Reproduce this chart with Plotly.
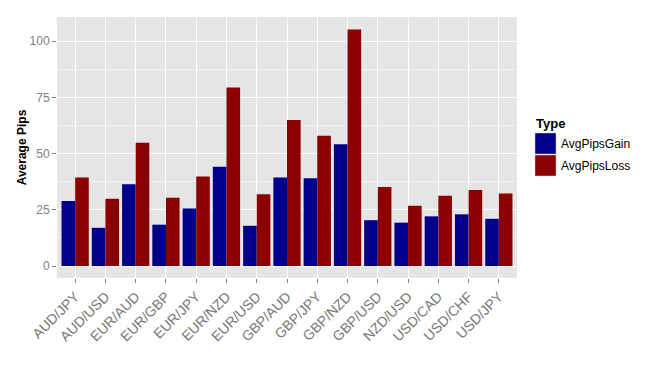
import plotly.graph_objects as go

pairs = ["AUD/JPY", "AUD/USD", "EUR/AUD", "EUR/GBP", "EUR/JPY", "EUR/NZD", "EUR/USD",
         "GBP/AUD", "GBP/JPY", "GBP/NZD", "GBP/USD", "NZD/USD", "USD/CAD", "USD/CHF", "USD/JPY"]
avg_pips_gain = [28.9, 17.0, 36.4, 18.4, 25.6, 44.1, 17.9, 39.4, 39.0, 54.1, 20.4, 19.3, 22.1, 23.0, 21.0]
avg_pips_loss = [39.4, 29.9, 54.8, 30.4, 39.8, 79.4, 31.9, 64.9, 57.9, 105.2, 35.1, 26.8, 31.3, 33.8, 32.3]
y_ticks = [0, 25, 50, 75, 100]
series_names = ["AvgPipsGain", "AvgPipsLoss"]
colors = ["#00008B", "#8B0000"]

FONT = "Liberation Sans, Arial, sans-serif"

fig = go.Figure()
for name, vals, col in zip(series_names, [avg_pips_gain, avg_pips_loss], colors):
    fig.add_trace(go.Bar(x=pairs, y=vals, name=name, marker_color=col,
                         marker_line_width=0, showlegend=False))

# page body has an 8px default margin, so margins are compensated
fig.update_layout(
    width=660, height=370,
    margin=dict(l=49, r=151, t=9, b=100, autoexpand=False),
    paper_bgcolor="white", plot_bgcolor="#E5E5E5",
    barmode="group", bargap=0.1, bargroupgap=0,
    font=dict(family=FONT, color="#7F7F7F", size=12),
)
fig.update_xaxes(range=[-0.6, 14.6], tickangle=-45, ticks="outside", ticklen=4,
                 tickcolor="#7F7F7F", showgrid=True, gridcolor="white", gridwidth=1.2,
                 tickfont=dict(size=14, color="#777777"), zeroline=False, showline=False,
                 automargin=False)
fig.update_yaxes(range=[-5.3, 110.7], tickvals=y_ticks, ticks="outside", ticklen=4,
                 tickcolor="#7F7F7F", showgrid=True, gridcolor="white", gridwidth=1.2,
                 minor=dict(dtick=12.5, showgrid=True, gridcolor="#F2F2F2", gridwidth=0.6),
                 tickfont=dict(size=12, color="#7F7F7F"), zeroline=False, showline=False,
                 automargin=False,
                 title=dict(text="<b>Average Pips</b>", font=dict(size=12, color="black"), standoff=0))

# legend drawn manually (paper coords relative to plot area 460x261)
fig.add_annotation(xref="paper", yref="paper", x=1.038, y=(278 - 123) / 261, xanchor="left",
                   yanchor="middle", text="<b>Type</b>", showarrow=False,
                   font=dict(size=13, color="black", family=FONT))
pw = 460
for i, (name, col) in enumerate(zip(series_names, colors)):
    top = 133 + i * 22
    bot = top + 21
    y0 = (278 - bot) / 261
    y1 = (278 - top) / 261
    x0 = (535 - 57) / pw
    x1 = (556 - 57) / pw
    fig.add_shape(type="rect", xref="paper", yref="paper", x0=x0, x1=x1, y0=y0, y1=y1,
                  fillcolor=col, line=dict(color="#CCCCCC", width=0.5))
    fig.add_annotation(xref="paper", yref="paper", x=(559 - 57) / pw, y=(y0 + y1) / 2,
                       xanchor="left", yanchor="middle", text=name, showarrow=False,
                       font=dict(size=12, color="black", family=FONT))

fig.write_html("out.html")
